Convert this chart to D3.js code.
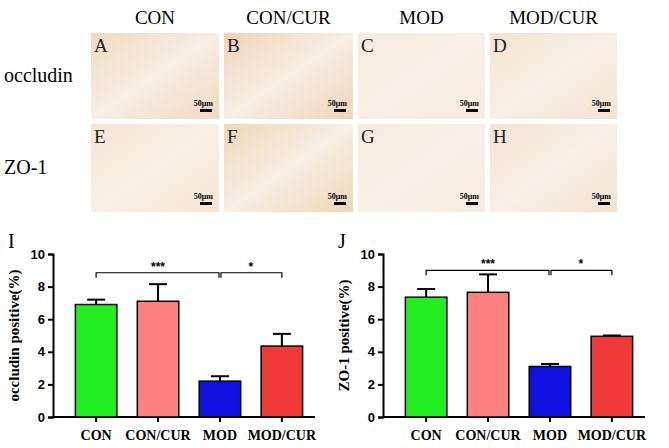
<!DOCTYPE html>
<html><head><meta charset="utf-8">
<script src="https://cdn.jsdelivr.net/npm/d3@7/dist/d3.min.js"></script>
<style>body{margin:0;background:#fff}</style></head>
<body><svg id="c" width="669" height="448"></svg>
<script>
const categories = ["CON","CON/CUR","MOD","MOD/CUR"];
const occludinMean = [6.9, 7.1, 2.2, 4.35];
const occludinErr = [7.2, 8.15, 2.5, 5.1];
const zo1Mean = [7.35, 7.65, 3.1, 4.95];
const zo1Err = [7.85, 8.75, 3.25, 5.0];
const yTicks = [0,2,4,6,8,10];
const colors = ["#22ee22","#ff8080","#1010e0","#f03a3a"];
const panelLetters = [["A","B","C","D"],["E","F","G","H"]];
const panelTones = [["#efd9bf","#efd3b6","#f6ebdf","#f3e4d2"],["#f5e6d2","#eed6b6","#f5ebe0","#f2e3d2"]];
const rowLabels = ["occludin","ZO-1"];

const svg = d3.select("#c");
const serif = "Times New Roman, Liberation Serif, serif";
const colX = [[91,219],[224,353],[358,485],[490,617]];
const rowY = [[33,119],[124,212]];
categories.forEach((c,i)=>svg.append("text").attr("x",(colX[i][0]+colX[i][1])/2).attr("y",24)
  .attr("text-anchor","middle").attr("font-family",serif).attr("font-size",19).text(c));
rowLabels.forEach((r,j)=>svg.append("text").attr("x",4).attr("y",(rowY[j][0]+rowY[j][1])/2+6)
  .attr("font-family",serif).attr("font-size",20).text(r));
const defs = svg.append("defs");
rowY.forEach((ry,j)=>colX.forEach((cx,i)=>{
  const id="g"+j+i;
  const g=defs.append("linearGradient").attr("id",id).attr("x1",0).attr("y1",0).attr("x2",1).attr("y2",1);
  g.append("stop").attr("offset",0).attr("stop-color",panelTones[j][i]);
  g.append("stop").attr("offset",0.5).attr("stop-color","#f8efe6");
  g.append("stop").attr("offset",1).attr("stop-color",panelTones[j][i]);
  svg.append("rect").attr("x",cx[0]).attr("y",ry[0]).attr("width",cx[1]-cx[0]).attr("height",ry[1]-ry[0]).attr("fill",`url(#${id})`);
  svg.append("text").attr("x",cx[0]+3).attr("y",ry[0]+19).attr("font-family",serif).attr("font-size",19).attr("fill","#222").text(panelLetters[j][i]);
  svg.append("text").attr("x",cx[1]-6).attr("y",ry[1]-13).attr("text-anchor","end").attr("font-family",serif).attr("font-weight","bold").attr("font-size",8).text("50μm");
  svg.append("rect").attr("x",cx[1]-19).attr("y",ry[1]-10).attr("width",12).attr("height",3).attr("fill","#000");
}));

function chart(ox, letter, label, mean, err, bracketY){
  const y = d3.scaleLinear().domain([0,10]).range([417,254]);
  const x = d3.scaleBand().domain(categories).range([ox+10, ox+262]).paddingInner(0.33).paddingOuter(0.2);
  const g = svg.append("g");
  g.append("text").attr("x",ox-45).attr("y",248).attr("font-family",serif).attr("font-size",20).text(letter);
  const ax = g.append("g").attr("transform",`translate(${ox},0)`).call(d3.axisLeft(y).tickValues(yTicks).tickSize(5).tickFormat(d3.format("d")));
  ax.selectAll("text").attr("font-family","Arial, Liberation Sans").attr("font-weight","bold").attr("font-size",13).attr("fill","#000");
  ax.select(".domain").attr("stroke-width",2);
  ax.selectAll(".tick line").attr("stroke-width",2);
  const xa = g.append("g").attr("transform",`translate(0,${y(0)})`).call(d3.axisBottom(x).tickSize(5).tickSizeOuter(0));
  xa.select(".domain").attr("d",`M${ox},0H${ox+262}`).attr("stroke-width",2);
  xa.selectAll(".tick line").attr("stroke-width",2);
  xa.selectAll("text").attr("font-family",serif).attr("font-weight","bold").attr("font-size",14).attr("fill","#000").attr("dy","1.1em");
  g.append("text").attr("transform",`translate(${ox-34},${y(5)}) rotate(-90)`).attr("text-anchor","middle")
    .attr("font-family",serif).attr("font-weight","bold").attr("font-size",15).text(label);
  categories.forEach((c,i)=>{
    const cx = x(c)+x.bandwidth()/2;
    g.append("line").attr("x1",cx).attr("x2",cx).attr("y1",y(mean[i])).attr("y2",y(err[i])).attr("stroke","#000").attr("stroke-width",2);
    g.append("line").attr("x1",cx-9).attr("x2",cx+9).attr("y1",y(err[i])).attr("y2",y(err[i])).attr("stroke","#000").attr("stroke-width",2);
    g.append("rect").attr("x",x(c)).attr("y",y(mean[i])).attr("width",x.bandwidth()).attr("height",y(0)-y(mean[i]))
      .attr("fill",colors[i]).attr("stroke","#000").attr("stroke-width",1.5);
  });
  const c0 = x(categories[0])+x.bandwidth()/2, c2 = x(categories[2])+x.bandwidth()/2, c3=x(categories[3])+x.bandwidth()/2;
  const by = y(bracketY);
  const br = (a,b)=>g.append("path").attr("d",`M${a},${by+5}V${by}H${b}V${by+5}`).attr("fill","none").attr("stroke","#000").attr("stroke-width",1.2);
  br(c0,c2-1); br(c2+1,c3);
  g.append("text").attr("x",(c0+c2)/2).attr("y",by-2).attr("text-anchor","middle").attr("font-size",12).attr("font-weight","bold").attr("font-family","Arial").text("***");
  g.append("text").attr("x",(c2+c3)/2).attr("y",by-2).attr("text-anchor","middle").attr("font-size",12).attr("font-weight","bold").attr("font-family","Arial").text("*");
}
chart(53,"I","occludin positive(%)",occludinMean,occludinErr,8.85);
chart(383,"J","ZO-1 positive(%)",zo1Mean,zo1Err,9.0);
</script></body></html>
